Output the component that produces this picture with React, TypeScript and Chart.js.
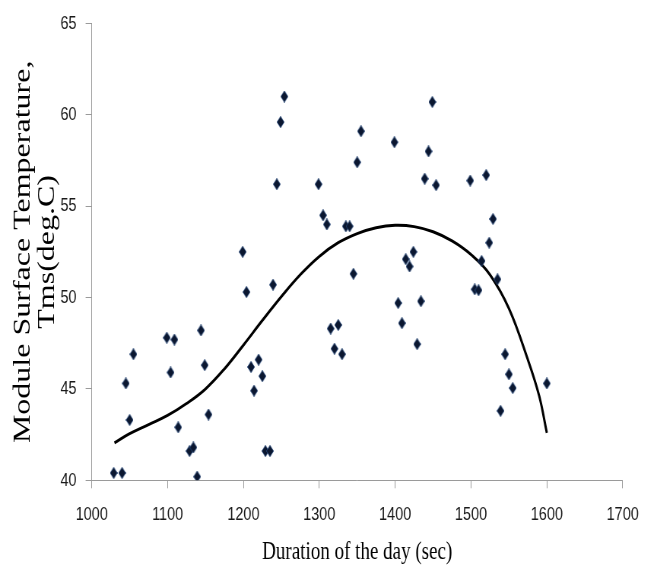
import React, { useEffect, useRef } from "react";
import { Chart, registerables } from "chart.js";

Chart.register(...registerables);

// Observed points: duration of the day (sec) vs module surface temperature (deg C)
const durationSec = [
  1029, 1040, 1045, 1050, 1055, 1099, 1104, 1109, 1114, 1129, 1134, 1139, 1144, 1149, 1154,
  1199, 1204, 1210, 1214, 1220, 1225, 1229, 1235, 1239, 1244, 1249, 1254,
  1299, 1305, 1310, 1315, 1320, 1325, 1330, 1335, 1340, 1345, 1350, 1355,
  1399, 1404, 1409, 1414, 1419, 1424, 1429, 1434, 1439, 1444, 1449, 1454,
  1499, 1505, 1510, 1514, 1520, 1524, 1529, 1535, 1539, 1545, 1550, 1555, 1600,
];
const moduleTempC = [
  40.4, 40.4, 45.3, 43.3, 46.9, 47.8, 45.9, 47.7, 42.9, 41.6, 41.8, 40.2, 48.2, 46.3, 43.6,
  52.5, 50.3, 46.2, 44.9, 46.6, 45.7, 41.6, 41.6, 50.7, 56.2, 59.6, 61.0,
  56.2, 54.5, 54.0, 48.3, 47.2, 48.5, 46.9, 53.9, 53.9, 51.3, 57.4, 59.1,
  58.5, 49.7, 48.6, 52.1, 51.7, 52.5, 47.45, 49.8, 56.5, 58.0, 60.7, 56.15,
  56.4, 50.45, 50.4, 52.0, 56.7, 53.0, 54.3, 51.0, 43.8, 46.9, 45.8, 45.05, 45.3,
];

// Trend line
const trendDuration = [
  1030, 1050, 1075, 1100, 1125, 1150, 1175, 1200, 1225, 1250, 1275, 1300, 1325,
  1350, 1375, 1400, 1425, 1450, 1475, 1500, 1525, 1550, 1575, 1590, 1600,
];
const trendTemp = [
  42.05, 42.55, 43.05, 43.55, 44.2, 45.0, 46.1, 47.4, 48.75, 50.05, 51.25, 52.25, 53.0,
  53.5, 53.82, 53.95, 53.88, 53.6, 53.1, 52.35, 51.25, 49.4, 46.6, 44.6, 42.6,
];

const xAxisTitle = "Duration of the day (sec)";
const yAxisTitle = ["Module Surface Temperature,", "Tms(deg.C)"];
const xRange = [1000, 1700];
const xStep = 100;
const yRange = [40, 65];
const yStep = 5;

const SQUEEZE = 0.7604;
const W = 864;
const H = 574;

function makeDiamond(): HTMLCanvasElement {
  const w = 10;
  const h = 12;
  const c = document.createElement("canvas");
  c.width = w;
  c.height = h;
  const ctx = c.getContext("2d")!;
  ctx.beginPath();
  ctx.moveTo(w / 2, 0.3);
  ctx.lineTo(w - 0.3, h / 2);
  ctx.lineTo(w / 2, h - 0.3);
  ctx.lineTo(0.3, h / 2);
  ctx.closePath();
  ctx.fillStyle = "#0b1730";
  ctx.fill();
  ctx.lineWidth = 0.8;
  ctx.strokeStyle = "#2a4c82";
  ctx.stroke();
  return c;
}

export default function App() {
  const ref = useRef<HTMLCanvasElement>(null);

  useEffect(() => {
    if (!ref.current) return;
    const axisGray = "#9a9a9a";
    const diamond = makeDiamond();
    const chart = new Chart(ref.current, {
      type: "scatter",
      data: {
        datasets: [
          {
            label: "Tms",
            data: durationSec.map((x, i) => ({ x, y: moduleTempC[i] })),
            pointStyle: diamond as any,
            pointRadius: 6,
            pointHoverRadius: 6,
            backgroundColor: "#0b1730",
            borderColor: "#22406e",
            borderWidth: 0,
            order: 1,
          },
          {
            type: "line",
            label: "Trend",
            data: trendDuration.map((x, i) => ({ x, y: trendTemp[i] })),
            borderColor: "#000000",
            borderWidth: 3,
            pointRadius: 0,
            tension: 0.4,
            fill: false,
            order: 2,
          } as any,
        ],
      },
      options: {
        responsive: false,
        animation: false,
        layout: { padding: { left: 0, top: 18.3, right: 45.1, bottom: 0 } },
        plugins: { legend: { display: false }, tooltip: { enabled: false } },
        scales: {
          x: {
            type: "linear",
            min: xRange[0],
            max: xRange[1],
            ticks: {
              stepSize: xStep,
              color: "#1a1a1a",
              font: { family: "Liberation Sans", size: 19 },
              padding: 15,
              maxRotation: 0,
              callback: (v: any) => String(v),
            },
            grid: { drawOnChartArea: false, color: axisGray, tickLength: 8 },
            border: { color: axisGray, width: 1 },
            title: {
              display: true,
              text: xAxisTitle,
              color: "#000",
              font: { family: "Liberation Serif", size: 25, lineHeight: 1.2 },
              padding: { top: 0, bottom: 7 },
            },
            afterFit: (s: any) => {
              s.height = 93.7;
            },
          },
          y: {
            type: "linear",
            min: yRange[0],
            max: yRange[1],
            ticks: {
              stepSize: yStep,
              color: "#1a1a1a",
              font: { family: "Liberation Sans", size: 19 },
              padding: 12,
              callback: (v: any) => String(v),
            },
            grid: { drawOnChartArea: false, color: axisGray, tickLength: 8 },
            border: { color: axisGray, width: 1 },
            title: {
              display: true,
              text: yAxisTitle,
              color: "#000",
              font: { family: "Liberation Serif", size: 32, lineHeight: 1.0 },
              padding: { top: 15, bottom: 0 },
            },
            afterFit: (s: any) => {
              s.width = 120.6;
            },
          },
        },
      },
    });
    return () => chart.destroy();
  }, []);

  return (
    <div
      style={{
        position: "fixed",
        left: 0,
        top: 0,
        width: 657,
        height: 574,
        overflow: "hidden",
        background: "#fff",
      }}
    >
      <div
        style={{
          width: W,
          height: H,
          transform: `scaleX(${SQUEEZE})`,
          transformOrigin: "0 0",
        }}
      >
        <canvas ref={ref} width={W} height={H} />
      </div>
    </div>
  );
}
